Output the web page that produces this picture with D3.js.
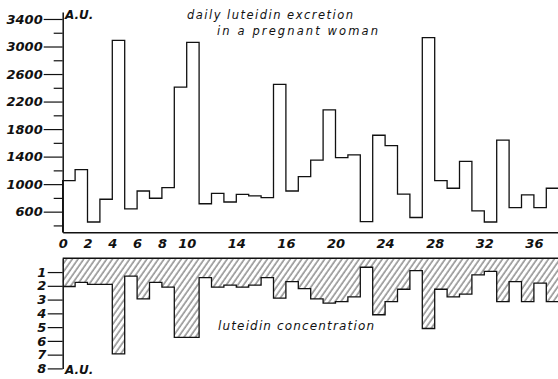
<!DOCTYPE html>
<html><head><meta charset="utf-8">
<script src="https://cdn.jsdelivr.net/npm/d3@7"></script>
<style>
body{margin:0;background:#fff}
svg{display:block}
text{font-family:"DejaVu Sans",sans-serif;font-style:italic;fill:#111}
</style>
</head><body>
<svg id="c" width="558" height="379"></svg>
<script>
// ---- data ----
const days = [0,1,2,3,4,5,6,7,8,9,10,11,12,13,14,15,16,17,18,19,20,21,22,23,24,25,26,27,28,29,30,31,32,33,34,35,36,37,38,39];
const excretion = [1050,1210,450,780,3090,640,900,795,950,2410,
                   3060,715,865,740,850,830,805,2450,900,1110,
                   1350,2080,1385,1425,455,1710,1560,855,515,3130,
                   1050,940,1330,610,450,1640,660,845,660,940];
const concentration = [2.05,1.75,1.9,1.9,6.95,1.3,2.95,1.75,2.1,5.75,
                       5.75,1.4,2.1,1.95,2.1,1.95,1.4,2.9,1.7,2.2,
                       2.95,3.25,3.15,2.8,0.65,4.1,3.15,2.25,0.9,5.1,
                       2.25,2.8,2.6,1.2,0.95,3.15,1.7,3.15,1.8,3.15];
const xTickValues = [0,2,4,6,8,10,14,18,22,26,30,34,38];
const xTickLabels = ["0","2","4","6","8","10","14","16","20","24","28","32","36"];
const yTopMajor = [600,1000,1400,1800,2200,2600,3000,3400];
const yTopMinor = [400,800,1200,1600,2000,2400,2800,3200];
const yBotTicks = [1,2,3,4,5,6,7,8];
const unitLabel = "A.U.";
const titleLines = ["daily luteidin excretion","in a pregnant woman"];
const bottomTitle = "luteidin concentration";

// ---- drawing ----
const svg = d3.select("#c");
const x = d3.scaleLinear().domain([0, 40]).range([62.7, 558.7]);
const yT = d3.scaleLinear().domain([300, 3500]).range([232.3, 12.1]);
const yB = d3.scaleLinear().domain([0, 8]).range([258.3, 368.4]);

const defs = svg.append("defs");
const pat = defs.append("pattern").attr("id","hatch")
  .attr("patternUnits","userSpaceOnUse").attr("width",4.7).attr("height",10)
  .attr("patternTransform","rotate(35)");
pat.append("line").attr("x1",1).attr("x2",1).attr("y1",0).attr("y2",10)
  .attr("stroke","#222").attr("stroke-width",0.8);

// top chart: step outline
const topPts = days.map((d,i)=>[d, excretion[i]]);
topPts.push([days[days.length-1]+1, excretion[excretion.length-1]]);
const topLine = d3.line().x(d=>x(d[0])).y(d=>yT(d[1])).curve(d3.curveStepAfter);
svg.append("path").attr("d", topLine([[0,300]].concat(topPts)))
  .attr("fill","none").attr("stroke","#111").attr("stroke-width",1.3);

// top y axis
const gYT = svg.append("g").attr("transform",`translate(${x(0)},0)`)
  .call(d3.axisLeft(yT).tickValues(yTopMajor).tickSize(19).tickSizeOuter(0).tickPadding(1).tickFormat(d=>d));
const gYTm = svg.append("g").attr("transform",`translate(${x(0)},0)`)
  .call(d3.axisLeft(yT).tickValues(yTopMinor).tickSize(9).tickSizeOuter(0).tickFormat(""));
gYTm.select(".domain").remove();

// top x axis
const gXT = svg.append("g").attr("transform",`translate(0,${yT(300)})`)
  .call(d3.axisBottom(x).tickValues(xTickValues).tickSize(0).tickSizeOuter(0).tickPadding(6.5)
    .tickFormat((d,i)=>xTickLabels[i]));

// bottom chart: hatched area
const botPts = days.map((d,i)=>[d, concentration[i]]);
botPts.push([days[days.length-1]+1, concentration[concentration.length-1]]);
const area = d3.area().x(d=>x(d[0])).y0(yB(0)).y1(d=>yB(d[1])).curve(d3.curveStepAfter);
svg.append("path").attr("d", area(botPts)).attr("fill","url(#hatch)").attr("stroke","none");
const botLine = d3.line().x(d=>x(d[0])).y(d=>yB(d[1])).curve(d3.curveStepAfter);
svg.append("path").attr("d", botLine(botPts))
  .attr("fill","none").attr("stroke","#111").attr("stroke-width",1.3);
svg.append("line").attr("x1",x(0)).attr("x2",x(40)).attr("y1",yB(0)).attr("y2",yB(0))
  .attr("stroke","#111").attr("stroke-width",1.6);

// bottom y axis
svg.append("g").attr("transform",`translate(${x(0)},0)`)
  .call(d3.axisLeft(yB).tickValues(yBotTicks).tickSize(15).tickSizeOuter(0).tickPadding(1.5).tickFormat(d=>d));

// axis styling
svg.selectAll(".domain").attr("stroke","#111").attr("stroke-width",1.5);
svg.selectAll(".tick line").attr("stroke","#111").attr("stroke-width",1.2);
svg.selectAll(".tick text").attr("font-family","DejaVu Sans").attr("font-style","italic")
  .attr("font-weight","bold").attr("font-size",13).attr("fill","#111");

// texts
svg.append("text").attr("x",65).attr("y",18.6).attr("font-size",12).attr("font-weight","bold")
  .text(unitLabel);
svg.append("text").attr("x",65).attr("y",374).attr("font-size",12).attr("font-weight","bold")
  .text(unitLabel);
svg.append("text").attr("x",187).attr("y",19).attr("font-size",11.5)
  .attr("textLength",166).attr("lengthAdjust","spacing").text(titleLines[0]);
svg.append("text").attr("x",217).attr("y",34.5).attr("font-size",11.5)
  .attr("textLength",161).attr("lengthAdjust","spacing").text(titleLines[1]);
svg.append("text").attr("x",218).attr("y",330).attr("font-size",12)
  .attr("textLength",156).attr("lengthAdjust","spacing").text(bottomTitle);
</script>
</body></html>
